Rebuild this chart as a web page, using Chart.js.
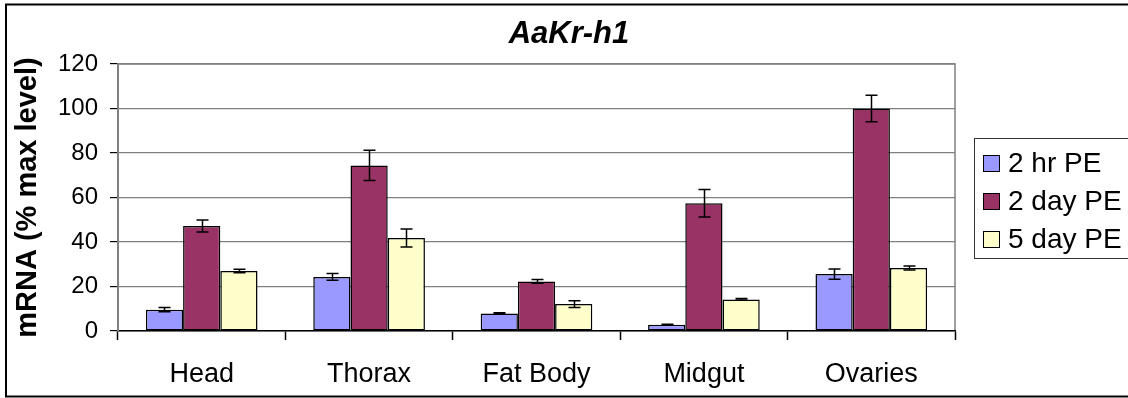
<!DOCTYPE html>
<html>
<head>
<meta charset="utf-8">
<script src="https://cdn.jsdelivr.net/npm/chart.js@4/dist/chart.umd.min.js"></script>
<style>
  html, body { margin: 0; padding: 0; background: #fff; }
  #wrap { width: 1128px; height: 398px; }
</style>
</head>
<body>
<div id="wrap"><canvas id="c" width="1128" height="398"></canvas></div>
<script>
// Tissues sampled
const categories = ['Head', 'Thorax', 'Fat Body', 'Midgut', 'Ovaries'];

// Series names
const seriesNames = ['2 hr PE', '2 day PE', '5 day PE'];

// Relative mRNA level (% of max) per tissue
const hr2Values  = [9.6, 24.3, 7.9, 2.8, 25.6];
const day2Values = [47.2, 74.4, 22.3, 57.4, 100];
const day5Values = [27.0, 41.8, 12.1, 14.2, 28.3];

// Error (+/-) per bar
const hr2Errors  = [1.0, 1.5, 0.3, 0.2, 2.3];
const day2Errors = [2.7, 6.8, 0.8, 6.2, 6.0];
const day5Errors = [0.8, 4.0, 1.5, 0.4, 0.9];

// Value axis ticks
const yTicks = [0, 20, 40, 60, 80, 100, 120];

const chartTitle = 'AaKr-h1';
const yAxisTitle = 'mRNA (% max level)';

const seriesColors = ['#9999FF', '#993366', '#FFFFCC'];
const FONT = '"Liberation Sans", Arial, Helvetica, sans-serif';

const seriesValues = [hr2Values, day2Values, day5Values];
const seriesErrors = [hr2Errors, day2Errors, day5Errors];

// Outer frame, chart title and plot-area border
const framePlugin = {
  id: 'frame',
  beforeDraw(chart) {
    const ctx = chart.ctx;
    const a = chart.chartArea;
    ctx.save();
    ctx.fillStyle = '#fff';
    ctx.fillRect(0, 0, chart.width, chart.height);
    ctx.strokeStyle = '#000';
    ctx.lineWidth = 2;
    ctx.strokeRect(6, 4.5, 1200, 392);
    // plot area border (top and right)
    ctx.strokeStyle = '#808080';
    ctx.lineWidth = 1.5;
    ctx.beginPath();
    ctx.moveTo(a.left, a.top);
    ctx.lineTo(a.right, a.top);
    ctx.lineTo(a.right, a.bottom);
    ctx.stroke();
    // title
    ctx.fillStyle = '#000';
    ctx.font = 'italic bold 31px ' + FONT;
    ctx.textAlign = 'center';
    ctx.textBaseline = 'middle';
    ctx.fillText(chartTitle, 569, 34);
    ctx.restore();
  }
};

// Error bars with caps, placed through the chart's own scales
const errorBarPlugin = {
  id: 'errorBars',
  afterDatasetsDraw(chart) {
    const ctx = chart.ctx;
    const y = chart.scales.y;
    ctx.save();
    ctx.strokeStyle = '#000';
    ctx.lineWidth = 1.5;
    chart.data.datasets.forEach((ds, di) => {
      const meta = chart.getDatasetMeta(di);
      const errs = seriesErrors[di];
      meta.data.forEach((bar, i) => {
        const v = ds.data[i];
        const e = errs[i];
        const x = Math.round(bar.x) + 0.5;
        const yTop = y.getPixelForValue(v + e);
        const yBot = y.getPixelForValue(v - e);
        const cap = 6;
        ctx.beginPath();
        ctx.moveTo(x, yTop);
        ctx.lineTo(x, yBot);
        ctx.moveTo(x - cap, yTop);
        ctx.lineTo(x + cap, yTop);
        ctx.moveTo(x - cap, yBot);
        ctx.lineTo(x + cap, yBot);
        ctx.stroke();
      });
    });
    ctx.restore();
  }
};

// Boxed legend on the right
const boxLegendPlugin = {
  id: 'boxLegend',
  afterDraw(chart) {
    const ctx = chart.ctx;
    ctx.save();
    ctx.strokeStyle = '#333';
    ctx.lineWidth = 1;
    ctx.strokeRect(974.5, 138.5, 200, 120);
    ctx.font = '28px ' + FONT;
    ctx.textBaseline = 'middle';
    ctx.textAlign = 'left';
    chart.data.datasets.forEach((ds, i) => {
      const cy = 163 + i * 38;
      ctx.fillStyle = ds.backgroundColor;
      ctx.fillRect(983, cy - 8, 16, 16);
      ctx.strokeStyle = '#000';
      ctx.strokeRect(983.5, cy - 7.5, 16, 16);
      ctx.fillStyle = '#000';
      ctx.fillText(ds.label, 1008, cy + 1);
    });
    ctx.restore();
  }
};

new Chart(document.getElementById('c'), {
  type: 'bar',
  data: {
    labels: categories,
    datasets: seriesNames.map((name, i) => ({
      label: name,
      data: seriesValues[i],
      backgroundColor: seriesColors[i],
      borderColor: '#000',
      borderWidth: 1.5,
      borderSkipped: false,
      categoryPercentage: 0.667,
      barPercentage: 1.0
    }))
  },
  options: {
    responsive: false,
    animation: false,
    devicePixelRatio: 1,
    layout: { padding: { left: 0, top: 64, right: 173, bottom: 0 } },
    plugins: {
      legend: { display: false },
      title: { display: false },
      tooltip: { enabled: false }
    },
    scales: {
      x: {
        afterFit(scale) { scale.height = 67; },
        grid: {
          offset: true,
          drawOnChartArea: false,
          drawTicks: true,
          tickLength: 9,
          tickColor: '#000',
          tickWidth: 1.5
        },
        border: { color: '#000', width: 1.5 },
        ticks: {
          color: '#000',
          padding: 18,
          font: { family: FONT, size: 27 }
        }
      },
      y: {
        min: 0,
        max: 120,
        afterFit(scale) { scale.width = 118; },
        afterBuildTicks(scale) { scale.ticks = yTicks.map(v => ({ value: v })); },
        grid: {
          color: '#808080',
          lineWidth: 1.2,
          tickLength: 8,
          tickColor: '#000',
          drawTicks: true
        },
        border: { color: '#808080', width: 2 },
        ticks: {
          color: '#000',
          padding: 12,
          font: { family: FONT, size: 24 }
        },
        title: {
          display: true,
          text: yAxisTitle,
          color: '#000',
          font: { family: FONT, size: 29, weight: 'bold' },
          padding: { top: 11, bottom: 0 }
        }
      }
    }
  },
  plugins: [framePlugin, errorBarPlugin, boxLegendPlugin]
});
</script>
</body>
</html>
